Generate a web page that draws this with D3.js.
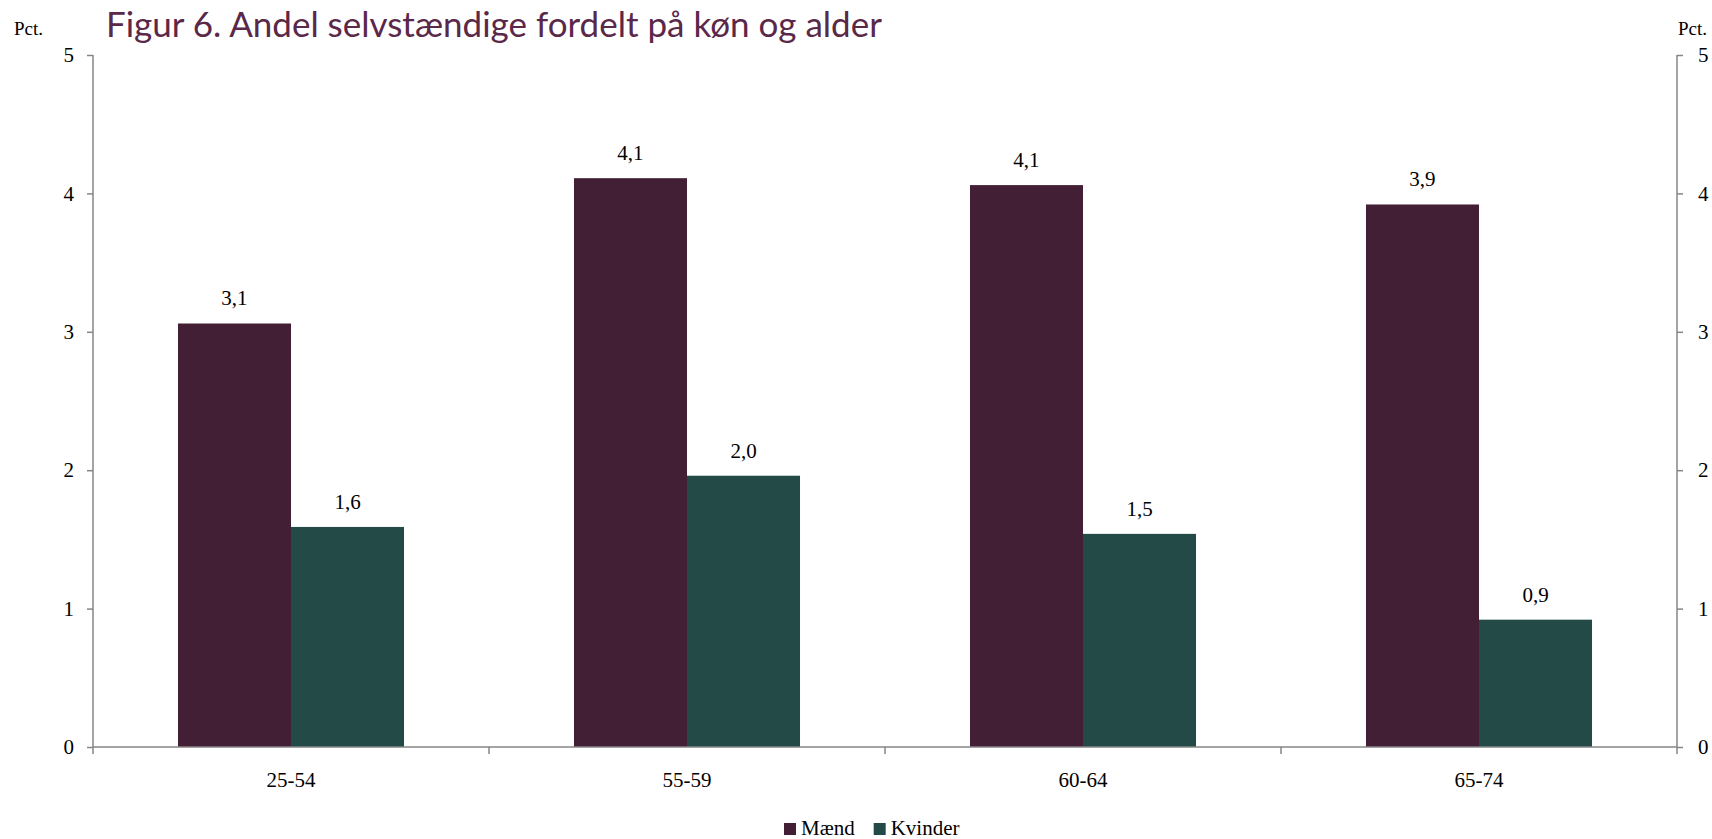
<!DOCTYPE html>
<html>
<head>
<meta charset="utf-8">
<script src="https://cdn.jsdelivr.net/npm/d3@7"></script>
<style>
  body { margin: 0; background: #fff; }
  svg text { font-family: "Liberation Serif", serif; fill: #000; }
</style>
</head>
<body>
<svg id="chart" width="1712" height="839"></svg>
<script>
// chart data
var categories = ['25-54', '55-59', '60-64', '65-74'];
var seriesNames = ['Mænd', 'Kvinder'];
var maend = [3.06, 4.11, 4.06, 3.92];
var kvinder = [1.59, 1.96, 1.54, 0.92];
var yTicks = [0, 1, 2, 3, 4, 5];
var colors = ['#421f34', '#244a47'];

var svg = d3.select('#chart');
var margin = {left: 93, right: 35, top: 55, bottom: 92};
var W = 1712, H = 839;
var x0 = margin.left, x1 = W - margin.right;
var y0 = H - margin.bottom, y1 = margin.top;

var x = d3.scaleBand().domain(categories).range([x0, x1]);
var xs = d3.scaleBand().domain(seriesNames).range([0, x.bandwidth()]).paddingOuter(0.752).paddingInner(0);
var y = d3.scaleLinear().domain([0, 5]).range([y0, y1]);

var values = [maend, kvinder];

// bars
categories.forEach(function(c, i){
    seriesNames.forEach(function(s, j){
        var v = values[j][i];
        svg.append('rect')
            .attr('x', x(c) + xs(s))
            .attr('y', y(v))
            .attr('width', xs.bandwidth())
            .attr('height', y(0) - y(v))
            .attr('fill', colors[j]);
        svg.append('text')
            .attr('x', x(c) + xs(s) + xs.bandwidth() / 2)
            .attr('y', y(v) - 18)
            .attr('text-anchor', 'middle')
            .style('font-size', '21px')
            .text(v.toFixed(1).replace('.', ','));
    });
});

// axes
var axisColor = '#868686';
var leftAxis = svg.append('g').attr('transform', 'translate(' + x0 + ',0)')
    .call(d3.axisLeft(y).tickValues(yTicks).tickSize(6).tickPadding(13).tickFormat(d3.format('d')));
var rightAxis = svg.append('g').attr('transform', 'translate(' + x1 + ',0)')
    .call(d3.axisRight(y).tickValues(yTicks).tickSize(6).tickPadding(15).tickFormat(d3.format('d')));

var boundaries = categories.map(function(c){ return x(c); }).concat([x1]);
var bottomAxis = svg.append('g');
bottomAxis.append('line')
    .attr('x1', x0).attr('x2', x1).attr('y1', y0).attr('y2', y0);
bottomAxis.selectAll('line.tk').data(boundaries).enter().append('line')
    .attr('class', 'tk')
    .attr('x1', function(d){ return d; }).attr('x2', function(d){ return d; })
    .attr('y1', y0).attr('y2', y0 + 7);
bottomAxis.selectAll('text').data(categories).enter().append('text')
    .attr('x', function(d){ return x(d) + x.bandwidth() / 2; })
    .attr('y', y0 + 40)
    .attr('text-anchor', 'middle')
    .style('font-size', '21px')
    .text(function(d){ return d; });

[leftAxis, rightAxis].forEach(function(a){
    a.select('.domain').attr('d', 'M0,' + y1 + 'V' + y0);
    a.selectAll('text').style('font-size', '21px').style('font-family', '"Liberation Serif", serif').attr('fill', '#000');
});
svg.selectAll('.domain, .tick line').attr('stroke', axisColor).attr('stroke-width', 1.5);
bottomAxis.selectAll('line').attr('stroke', axisColor).attr('stroke-width', 1.5);

// unit labels
svg.append('text').attr('x', 14).attr('y', 35).style('font-size', '19px').text('Pct.');
svg.append('text').attr('x', 1678).attr('y', 35).style('font-size', '19px').text('Pct.');

// title
svg.append('text')
    .attr('x', 106).attr('y', 37)
    .style('font-family', 'Lato, sans-serif')
    .style('font-size', '35px')
    .style('fill', '#5a2848')
    .text('Figur 6. Andel selvstændige fordelt på køn og alder');

// legend
var legend = svg.append('g').attr('transform', 'translate(784,823)');
var lx = 0;
seriesNames.forEach(function(s, j){
    legend.append('rect').attr('x', lx).attr('y', 0).attr('width', 12).attr('height', 12).attr('fill', colors[j]);
    var t = legend.append('text').attr('x', lx + 17).attr('y', 12).style('font-size', '21px').text(s);
    lx += 17 + t.node().getComputedTextLength() + 19;
});
</script>
</body>
</html>
